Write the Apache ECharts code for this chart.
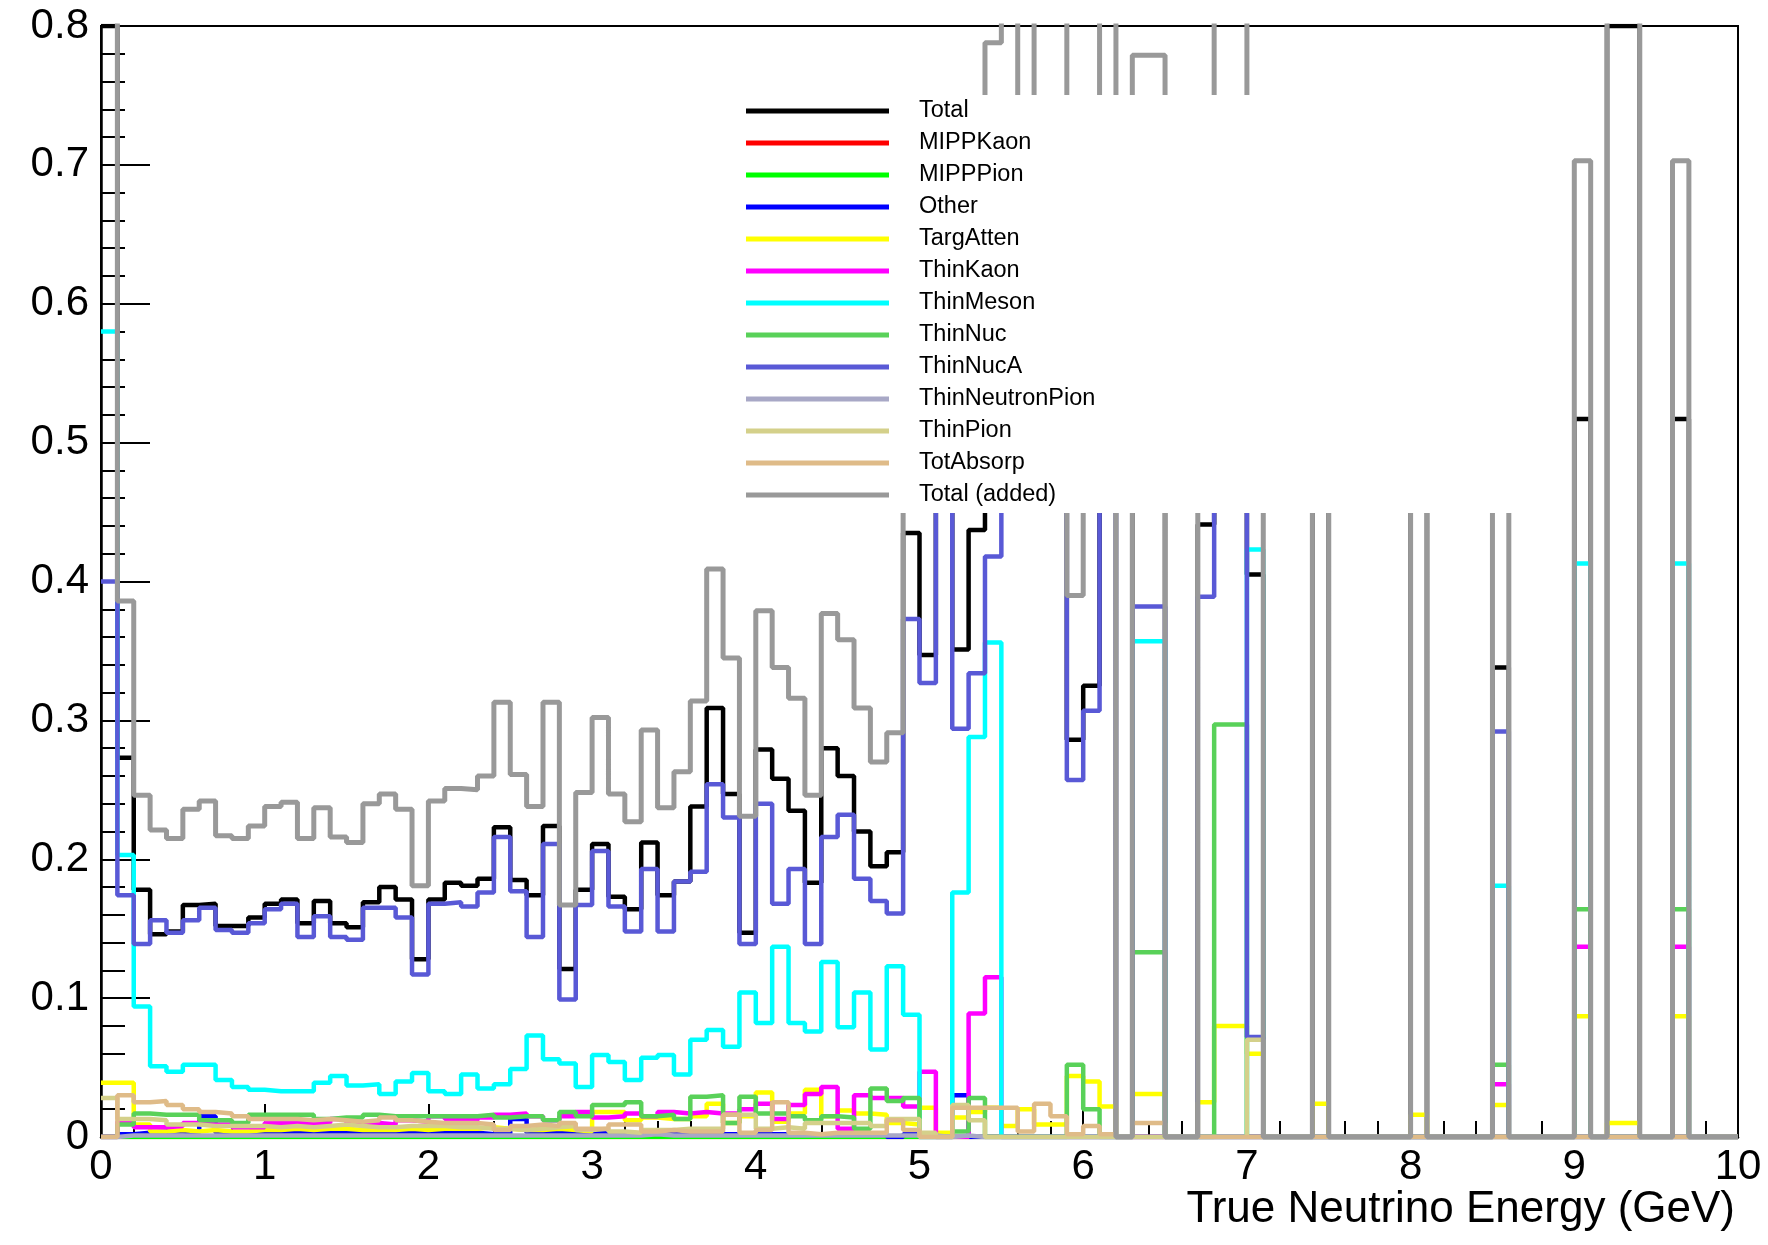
<!DOCTYPE html>
<html>
<head>
<meta charset="utf-8">
<title>Uncertainty by source</title>
<script src="https://cdn.jsdelivr.net/npm/echarts@6/dist/echarts.min.js"></script>
<style>
  html, body { margin: 0; padding: 0; background: #fff; }
  #chart { width: 1768px; height: 1245px; }
</style>
</head>
<body>
<div id="chart"></div>
<script>
// histogram: 100 bins of 0.1 GeV between 0 and 10
const binStart = 0
const binWidth = 0.1
const xTicks = [0, 1, 2, 3, 4, 5, 6, 7, 8, 9, 10]
const xTitle = 'True Neutrino Energy (GeV)'

// bin contents, 25 bins per row (values above 0.8 are off the frame)
const total = [
  0.8, 0.273, 0.178, 0.146, 0.148, 0.167, 0.168, 0.152, 0.152, 0.158, 0.168, 0.171, 0.154, 0.170, 0.154, 0.151, 0.169, 0.180, 0.171, 0.128, 0.171, 0.183, 0.181, 0.186, 0.223,
  0.185, 0.174, 0.224, 0.121, 0.178, 0.211, 0.173, 0.164, 0.212, 0.174, 0.184, 0.238, 0.309, 0.247, 0.147, 0.279, 0.258, 0.235, 0.183, 0.280, 0.260, 0.220, 0.195, 0.205, 0.435,
  0.347, 0.60, 0.351, 0.437, 0.60, 0.62, 0.58, 0.62, 0.60, 0.286, 0.325, 0.62, 0, 0.60, 0.60, 0, 0, 0.441, 0.65, 0.65, 0.405, 0, 0, 0, 0.55,
  0, 0, 0, 0, 0, 0.55, 0, 0, 0, 0, 0.338, 0, 0, 0, 0, 0.517, 0, 0.8, 0.8, 0, 0, 0.517, 0, 0, 0
]
const mippKaon = [
  0, 0, 0, 0, 0, 0, 0, 0, 0, 0, 0, 0, 0, 0, 0, 0, 0, 0, 0, 0, 0, 0, 0, 0, 0,
  0, 0, 0, 0, 0, 0, 0, 0, 0, 0, 0, 0, 0, 0, 0, 0, 0, 0, 0, 0, 0, 0, 0, 0, 0,
  0, 0, 0, 0, 0, 0, 0, 0, 0, 0, 0, 0, 0, 0, 0, 0, 0, 0, 0, 0, 0, 0, 0, 0, 0,
  0, 0, 0, 0, 0, 0, 0, 0, 0, 0, 0, 0, 0, 0, 0, 0, 0, 0, 0, 0, 0, 0, 0, 0, 0
]
const mippPion = [
  0, 0, 0, 0, 0, 0, 0, 0, 0, 0, 0, 0, 0, 0, 0, 0, 0, 0, 0, 0, 0, 0, 0, 0, 0,
  0, 0, 0, 0, 0, 0, 0, 0, 0, 0, 0, 0, 0, 0, 0, 0, 0, 0, 0, 0, 0, 0, 0, 0, 0,
  0, 0, 0, 0, 0, 0, 0, 0, 0, 0, 0, 0, 0, 0, 0, 0, 0, 0, 0, 0, 0, 0, 0, 0, 0,
  0, 0, 0, 0, 0, 0, 0, 0, 0, 0, 0, 0, 0, 0, 0, 0, 0, 0, 0, 0, 0, 0, 0, 0, 0
]
const other = [
  0, 0.002, 0.003, 0.004, 0.004, 0.003, 0.015, 0.003, 0.003, 0.003, 0.004, 0.003, 0.004, 0.003, 0.003, 0.004, 0.003, 0.003, 0.004, 0.003, 0.003, 0.003, 0.003, 0.002, 0.002,
  0.013, 0.003, 0.003, 0.003, 0.003, 0.003, 0.002, 0.002, 0.003, 0.002, 0.002, 0.002, 0.002, 0.002, 0.002, 0.002, 0.002, 0.002, 0.002, 0.002, 0.002, 0.002, 0.002, 0, 0.002,
  0, 0, 0.030, 0, 0, 0, 0, 0, 0, 0, 0, 0, 0, 0, 0, 0, 0, 0, 0, 0, 0, 0, 0, 0, 0,
  0, 0, 0, 0, 0, 0, 0, 0, 0, 0, 0, 0, 0, 0, 0, 0, 0, 0, 0, 0, 0, 0, 0, 0, 0
]
const targAtten = [
  0.039, 0.039, 0.009, 0.004, 0.005, 0.004, 0.005, 0.004, 0.004, 0.005, 0.005, 0.006, 0.005, 0.006, 0.006, 0.005, 0.005, 0.005, 0.006, 0.005, 0.006, 0.006, 0.006, 0.007, 0.006,
  0.005, 0.005, 0.006, 0.005, 0.004, 0.018, 0.018, 0.012, 0.014, 0.013, 0.013, 0.015, 0.024, 0.010, 0.015, 0.032, 0.011, 0.017, 0.034, 0.015, 0.019, 0.017, 0.016, 0.010, 0.009,
  0.021, 0.003, 0.014, 0.018, 0.021, 0.008, 0.020, 0.009, 0.009, 0.044, 0.040, 0.022, 0, 0.031, 0.031, 0, 0, 0.025, 0.080, 0.080, 0.060, 0, 0, 0, 0.024,
  0, 0, 0, 0, 0, 0.016, 0, 0, 0, 0, 0.023, 0, 0, 0, 0, 0.087, 0, 0.010, 0.010, 0, 0, 0.087, 0, 0, 0
]
const thinKaon = [
  0, 0.011, 0.007, 0.007, 0.008, 0.010, 0.009, 0.009, 0.007, 0.007, 0.010, 0.010, 0.010, 0.010, 0.013, 0.010, 0.010, 0.009, 0.012, 0.011, 0.015, 0.013, 0.012, 0.014, 0.016,
  0.017, 0.015, 0.012, 0.015, 0.018, 0.014, 0.015, 0.017, 0.015, 0.018, 0.017, 0.018, 0.017, 0.017, 0.020, 0.024, 0.013, 0.023, 0.031, 0.036, 0.006, 0.030, 0.028, 0.028, 0.022,
  0.047, 0, 0, 0.089, 0.115, 0, 0, 0, 0, 0, 0, 0, 0, 0, 0, 0, 0, 0, 0, 0, 0, 0, 0, 0, 0,
  0, 0, 0, 0, 0, 0, 0, 0, 0, 0, 0.038, 0, 0, 0, 0, 0.137, 0, 0, 0, 0, 0, 0.137, 0, 0, 0
]
const thinMeson = [
  0.58, 0.203, 0.094, 0.051, 0.047, 0.052, 0.052, 0.041, 0.036, 0.034, 0.033, 0.033, 0.033, 0.039, 0.044, 0.037, 0.038, 0.031, 0.040, 0.046, 0.033, 0.031, 0.045, 0.035, 0.038,
  0.049, 0.073, 0.056, 0.053, 0.036, 0.059, 0.054, 0.041, 0.057, 0.059, 0.045, 0.070, 0.077, 0.065, 0.104, 0.082, 0.137, 0.082, 0.076, 0.126, 0.079, 0.104, 0.063, 0.123, 0.088,
  0, 0, 0.176, 0.288, 0.356, 0, 0, 0, 0, 0, 0, 0, 0, 0.357, 0.357, 0, 0, 0, 0, 0, 0.423, 0, 0, 0, 0,
  0, 0, 0, 0, 0, 0, 0, 0, 0, 0, 0.181, 0, 0, 0, 0, 0.413, 0, 0, 0, 0, 0, 0.413, 0, 0, 0
]
const thinNuc = [
  0, 0.009, 0.017, 0.016, 0.016, 0.016, 0.012, 0.012, 0.010, 0.016, 0.016, 0.016, 0.016, 0.013, 0.014, 0.014, 0.016, 0.015, 0.015, 0.015, 0.015, 0.015, 0.015, 0.016, 0.014,
  0.015, 0.015, 0.012, 0.018, 0.015, 0.023, 0.023, 0.025, 0.015, 0.016, 0.013, 0.029, 0.030, 0.010, 0.029, 0.017, 0.017, 0.015, 0.012, 0.015, 0.014, 0.006, 0.035, 0.026, 0.028,
  0, 0, 0.004, 0.028, 0, 0, 0, 0, 0, 0.052, 0.020, 0, 0, 0.133, 0.133, 0, 0, 0, 0.297, 0.297, 0, 0, 0, 0, 0,
  0, 0, 0, 0, 0, 0, 0, 0, 0, 0, 0.052, 0, 0, 0, 0, 0.164, 0, 0, 0, 0, 0, 0.164, 0, 0, 0
]
const thinNucA = [
  0.40, 0.174, 0.139, 0.156, 0.147, 0.156, 0.165, 0.149, 0.147, 0.154, 0.164, 0.168, 0.144, 0.159, 0.144, 0.142, 0.165, 0.165, 0.158, 0.117, 0.168, 0.169, 0.166, 0.176, 0.216,
  0.177, 0.144, 0.211, 0.099, 0.167, 0.206, 0.166, 0.148, 0.193, 0.148, 0.184, 0.191, 0.254, 0.230, 0.139, 0.240, 0.168, 0.193, 0.139, 0.216, 0.232, 0.186, 0.170, 0.161, 0.373,
  0.327, 0.55, 0.294, 0.334, 0.418, 0.55, 0.55, 0.55, 0.55, 0.257, 0.307, 0.55, 0, 0.382, 0.382, 0, 0, 0.389, 0.55, 0.55, 0.072, 0, 0, 0, 0,
  0, 0, 0, 0, 0, 0, 0, 0, 0, 0, 0.292, 0, 0, 0, 0, 0, 0, 0, 0, 0, 0, 0, 0, 0, 0
]
const thinNeutronPion = [
  0, 0.001, 0.001, 0.001, 0.001, 0.001, 0.001, 0.001, 0.001, 0.001, 0.001, 0.001, 0.001, 0.001, 0.001, 0.001, 0.001, 0.001, 0.001, 0.001, 0.001, 0.001, 0.001, 0.001, 0.001,
  0.001, 0.001, 0.001, 0.001, 0.001, 0.001, 0.001, 0.001, 0.002, 0.001, 0.001, 0.001, 0.001, 0.001, 0.001, 0.001, 0.001, 0.001, 0.001, 0.001, 0.001, 0.001, 0.001, 0.001, 0.001,
  0.001, 0, 0.001, 0, 0, 0, 0, 0, 0, 0, 0, 0, 0, 0, 0, 0, 0, 0, 0, 0, 0, 0, 0, 0, 0,
  0, 0, 0, 0, 0, 0, 0, 0, 0, 0, 0, 0, 0, 0, 0, 0, 0, 0, 0, 0, 0, 0, 0, 0, 0
]
const thinPion = [
  0.028, 0.013, 0.013, 0.012, 0.009, 0.009, 0.008, 0.008, 0.008, 0.008, 0.007, 0.008, 0.007, 0.008, 0.009, 0.008, 0.007, 0.007, 0.008, 0.008, 0.008, 0.007, 0.007, 0.006, 0.006,
  0.005, 0.006, 0.007, 0.008, 0.005, 0.006, 0.004, 0.003, 0.005, 0.005, 0.006, 0.006, 0.006, 0.016, 0.016, 0.006, 0.007, 0.006, 0.010, 0.010, 0.010, 0.010, 0.008, 0.013, 0.013,
  0.003, 0, 0.023, 0.012, 0, 0, 0, 0, 0, 0, 0, 0, 0, 0, 0, 0, 0, 0, 0, 0, 0.070, 0, 0, 0, 0,
  0, 0, 0, 0, 0, 0, 0, 0, 0, 0, 0, 0, 0, 0, 0, 0, 0, 0, 0, 0, 0, 0, 0, 0, 0
]
const totAbsorp = [
  0, 0.030, 0.025, 0.026, 0.023, 0.020, 0.018, 0.017, 0.015, 0.013, 0.013, 0.013, 0.012, 0.013, 0.012, 0.011, 0.012, 0.014, 0.012, 0.011, 0.010, 0.010, 0.010, 0.009, 0.005,
  0.008, 0.009, 0.008, 0.010, 0.006, 0.006, 0.009, 0.009, 0.004, 0.005, 0.004, 0.004, 0.004, 0.016, 0.003, 0.005, 0.025, 0.003, 0.002, 0.003, 0.003, 0.003, 0.003, 0.012, 0.005,
  0, 0, 0.021, 0.021, 0.021, 0.021, 0.004, 0.024, 0.015, 0.002, 0.008, 0.002, 0, 0.010, 0.010, 0, 0, 0, 0, 0, 0, 0, 0, 0, 0,
  0, 0, 0, 0, 0, 0, 0, 0, 0, 0, 0, 0, 0, 0, 0, 0, 0, 0, 0, 0, 0, 0, 0, 0, 0
]
const totalAdded = [
  0.95, 0.386, 0.246, 0.221, 0.215, 0.236, 0.242, 0.217, 0.215, 0.224, 0.238, 0.241, 0.215, 0.237, 0.216, 0.212, 0.240, 0.247, 0.236, 0.181, 0.242, 0.251, 0.250, 0.260, 0.313,
  0.261, 0.238, 0.313, 0.167, 0.248, 0.302, 0.247, 0.227, 0.293, 0.237, 0.263, 0.314, 0.409, 0.345, 0.231, 0.379, 0.338, 0.316, 0.246, 0.377, 0.358, 0.309, 0.270, 0.291, 0.62,
  0.62, 0.65, 0.62, 0.65, 0.788, 0.95, 0.65, 0.95, 0.95, 0.390, 0.65, 0.95, 0, 0.779, 0.779, 0, 0, 0.65, 0.95, 0.95, 0.65, 0, 0, 0, 0.65,
  0, 0, 0, 0, 0, 0.65, 0, 0, 0, 0, 0.65, 0, 0, 0, 0, 0.703, 0, 0.95, 0.95, 0, 0, 0.703, 0, 0, 0
]

// legend order = drawing order, last one on top
const histos = [
  { name: 'Total', values: total, color: '#000000' },
  { name: 'MIPPKaon', values: mippKaon, color: '#ff0000' },
  { name: 'MIPPPion', values: mippPion, color: '#00ff00' },
  { name: 'Other', values: other, color: '#0000ff' },
  { name: 'TargAtten', values: targAtten, color: '#ffff00' },
  { name: 'ThinKaon', values: thinKaon, color: '#ff00ff' },
  { name: 'ThinMeson', values: thinMeson, color: '#00ffff' },
  { name: 'ThinNuc', values: thinNuc, color: '#59d159' },
  { name: 'ThinNucA', values: thinNucA, color: '#5959d6' },
  { name: 'ThinNeutronPion', values: thinNeutronPion, color: '#a8a8c6' },
  { name: 'ThinPion', values: thinPion, color: '#d4d08a' },
  { name: 'TotAbsorp', values: totAbsorp, color: '#dfbb88' },
  { name: 'Total (added)', values: totalAdded, color: '#999999' },
]

// step points at the low edge of every bin, plus the last upper edge
function toSteps(values) {
  let pts = values.map((v, i) => [+(binStart + i * binWidth).toFixed(2), v])
  pts.push([+(binStart + values.length * binWidth).toFixed(2), values[values.length - 1]])
  return pts
}

const font = '"Liberation Sans", Arial, Helvetica, sans-serif'

let mychart = echarts.init(document.getElementById('chart'), null, { renderer: 'canvas' })

mychart.setOption({
  animation: false,
  backgroundColor: '#fff',
  grid: {
    left: 101, right: 30, top: 26, bottom: 108,
    show: true, borderColor: '#000', borderWidth: 2,
    outerBoundsMode: 'none',
  },
  // x axis title, right aligned under the labels
  graphic: [
    {
      type: 'text',
      x: 1735, y: 1210,
      style: { text: xTitle, fontFamily: font, fontSize: 44, fill: '#000', align: 'right', verticalAlign: 'middle' },
    },
  ],
  legend: {
    orient: 'vertical',
    left: 735, top: 95,
    padding: [3, 450, 5, 11],
    backgroundColor: '#fff',
    borderWidth: 0,
    icon: 'rect',
    itemWidth: 143, itemHeight: 5, itemGap: 6,
    selectedMode: false,
    textStyle: { fontFamily: font, fontSize: 23.5, color: '#000', lineHeight: 26, padding: [0, 0, 0, 25] },
    data: histos.map(h => h.name),
  },
  xAxis: {
    type: 'value',
    min: xTicks[0], max: xTicks[xTicks.length - 1], interval: 1,
    axisLine: { show: true, onZero: false, lineStyle: { color: '#000', width: 2.5 } },
    axisTick: { show: true, inside: true, length: 33, lineStyle: { color: '#000', width: 2 } },
    minorTick: { show: true, splitNumber: 5, length: 16, lineStyle: { color: '#000', width: 2 } },
    splitLine: { show: false },
    axisLabel: { fontFamily: font, fontSize: 42, color: '#000', margin: 9 },
  },
  yAxis: {
    type: 'value',
    min: 0, max: 0.8, interval: 0.1,
    axisLine: { show: true, lineStyle: { color: '#000', width: 2.5 } },
    axisTick: { show: true, inside: true, length: 49, lineStyle: { color: '#000', width: 2 } },
    minorTick: { show: true, splitNumber: 5, length: 24, lineStyle: { color: '#000', width: 2 } },
    splitLine: { show: false },
    axisLabel: { fontFamily: font, fontSize: 42, color: '#000', margin: 12 },
  },
  series: histos.map(h => ({
    name: h.name,
    type: 'line',
    step: 'end',
    data: toSteps(h.values),
    symbol: 'none',
    showSymbol: false,
    silent: true,
    clip: true,
    lineStyle: { color: h.color, width: h.name === 'Total (added)' ? 5 : 4.5 },
    itemStyle: { color: h.color },
  })),
})
</script>
</body>
</html>
